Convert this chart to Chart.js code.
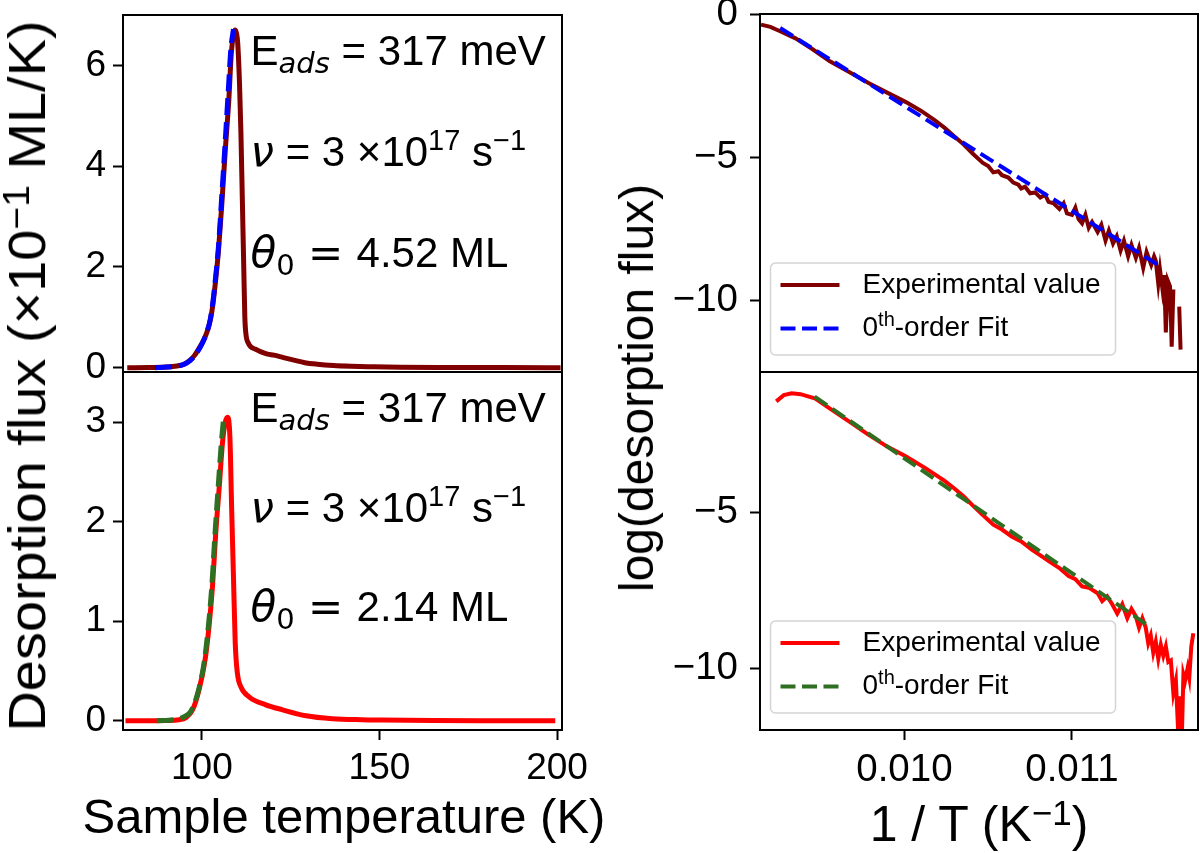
<!DOCTYPE html>
<html lang="en">
<head>
<meta charset="UTF-8">
<title>Desorption flux fits</title>
<script src="https://cdn.jsdelivr.net/npm/chart.js"></script>
<style>
  body { margin: 0; background: #fff; }
  #fig { position: relative; width: 1200px; height: 853px; font-family: "Liberation Sans", Arial, sans-serif; color: #000; }
  .panel { position: absolute; }
  .lbl { position: absolute; white-space: nowrap; line-height: 1; transform: translate(-50%, -50%); }
  sup { font-size: 0.7em; line-height: 0; vertical-align: 0.45em; }
</style>
</head>
<body>
<div id="fig">
  <div class="panel" style="left:0;top:0;width:600px;height:380px"><canvas id="tl"></canvas></div>
  <div class="panel" style="left:0;top:360px;width:600px;height:493px"><canvas id="bl"></canvas></div>
  <div class="panel" style="left:600px;top:0;width:600px;height:380px"><canvas id="tr"></canvas></div>
  <div class="panel" style="left:600px;top:360px;width:600px;height:493px"><canvas id="br"></canvas></div>

  <div class="lbl" style="left:27px;top:376px;font-size:52px;transform:translate(-50%,-50%) rotate(-90deg) scaleX(1.075)">Desorption flux (×10<sup>−1</sup> ML/K)</div>
  <div class="lbl" style="left:637px;top:388px;font-size:48px;transform:translate(-50%,-50%) rotate(-90deg)">log(desorption flux)</div>
  <div class="lbl" style="left:344px;top:816px;font-size:49px">Sample temperature (K)</div>
  <div class="lbl" style="left:979px;top:824px;font-size:50px">1 / T (K<sup>−1</sup>)</div>
</div>

<script>
// ---- data ----
// top-left: TPD trace, 4.52 ML
const tlTemp = [79, 85, 90, 93, 95, 96.7, 98, 99.5, 100.5, 101.5, 102.4, 103.1, 103.8, 104.7, 105.7, 106.6, 107.6, 108.3, 109.0, 109.4,
                109.8, 110.1, 110.6, 111.0, 111.4, 111.8, 112.1, 112.5, 113.0, 113.7, 115, 116.5, 118.5, 120.3, 123, 125.9, 129, 132.5, 137, 142,
                148, 156, 170, 185, 201];
const tlFlux = [0, 0.005, 0.015, 0.035, 0.07, 0.15, 0.25, 0.42, 0.55, 0.72, 0.95, 1.25, 1.68, 2.34, 3.33, 4.32, 5.32, 6.25, 6.64, 6.70,
                6.62, 6.44, 5.65, 4.66, 3.33, 2.0, 1.01, 0.62, 0.5, 0.42, 0.37, 0.32, 0.27, 0.25, 0.2, 0.15, 0.1, 0.07, 0.045, 0.03,
                0.02, 0.01, 0.005, 0.002, 0];
const tlFitTemp = [86.8, 90, 93, 95, 96.7, 98, 99.5, 100.5, 101.5, 102.4, 103.1, 103.8, 104.7, 105.6, 106.5, 107.4, 108.2, 108.9];
const tlFitFlux = [0, 0.012, 0.032, 0.068, 0.14, 0.24, 0.4, 0.54, 0.72, 0.97, 1.3, 1.75, 2.42, 3.4, 4.4, 5.45, 6.35, 6.72];

// bottom-left: TPD trace, 2.14 ML
const blTemp = [78.5, 85, 89.8, 93.6, 95.5, 97.4, 99.2, 100.9, 102.0, 103.0, 103.9, 104.9, 105.8, 106.6, 107.2, 107.9, 108.4, 108.9, 109.4, 110.0,
                111.0, 113.3, 118.0, 122.7, 129.3, 136.8, 145, 150.9, 165, 180, 199.5];
const blFlux = [0, 0, 0.003, 0.01, 0.03, 0.11, 0.31, 0.61, 0.94, 1.35, 1.88, 2.35, 2.79, 3.0, 3.05, 2.85, 2.12, 1.45, 0.78, 0.48,
                0.34, 0.24, 0.16, 0.11, 0.05, 0.02, 0.01, 0.007, 0.003, 0.001, 0];
const blFitTemp = [87.3, 92, 95, 97, 99, 100.7, 101.8, 102.8, 103.7, 104.6, 105.5, 106.2];
const blFitFlux = [0, 0.01, 0.04, 0.1, 0.3, 0.6, 0.94, 1.35, 1.88, 2.35, 2.8, 3.07];

// top-right: Arrhenius plot, 4.52 ML
const trInvT = [0.009144, 0.009200, 0.009258, 0.009350, 0.009450, 0.009555, 0.009670, 0.009783, 0.009900, 0.010012,
                0.010100, 0.010180, 0.010240, 0.010300, 0.010354, 0.010410, 0.010468, 0.010500, 0.010530, 0.010560,
                0.010582, 0.010620, 0.010650, 0.010680, 0.010697, 0.010720, 0.010750, 0.010780, 0.010811, 0.010840,
                0.010860, 0.010890, 0.010925, 0.010950, 0.010970, 0.011000, 0.011020, 0.011039, 0.011060, 0.011080,
                0.011100, 0.011120, 0.011153, 0.011175, 0.011200, 0.011220, 0.011245, 0.011267, 0.011290, 0.011310,
                0.011335, 0.011355, 0.011381, 0.011400, 0.011425, 0.011445, 0.011473, 0.011490, 0.011500, 0.011515,
                0.011525, 0.011540, 0.011550, 0.011560, 0.011572, 0.011585, 0.011595, 0.011605, 0.011620, 0.011640, 0.011648];
const trLog = [-0.37, -0.45, -0.60, -0.85, -1.22, -1.65, -2.02, -2.40, -2.75, -3.08,
               -3.38, -3.70, -3.97, -4.28, -4.55, -4.88, -5.19, -5.30, -5.52, -5.48,
               -5.62, -5.70, -5.88, -5.95, -6.08, -6.02, -6.25, -6.22, -6.40, -6.30,
               -6.55, -6.60, -6.80, -6.60, -6.95, -7.00, -6.75, -7.15, -7.30, -7.00,
               -7.45, -7.25, -7.60, -7.35, -7.90, -7.55, -8.00, -7.75, -8.25, -7.90,
               -8.45, -8.05, -8.50, -8.15, -8.85, -8.30, -8.75, -8.45, -8.60, -9.40,
               -8.90, -9.60, -9.10, -11.10, -9.30, -9.50, -11.60, -9.60, null, -10.20, -11.70];
const trFitInvT = [0.009258, 0.011515];
const trFitLog = [-0.49, -8.75];

// bottom-right: Arrhenius plot, 2.14 ML
const brInvT = [0.009235, 0.009280, 0.009327, 0.009380, 0.009464, 0.009560, 0.009669, 0.009780, 0.009897, 0.010010,
                0.010125, 0.010240, 0.010300, 0.010354, 0.010410, 0.010468, 0.010530, 0.010580, 0.010640, 0.010697,
                0.010760, 0.010820, 0.010870, 0.010925, 0.010980, 0.011020, 0.011060, 0.011100, 0.011153, 0.011180,
                0.011210, 0.011240, 0.011270, 0.011300, 0.011330, 0.011355, 0.011381, 0.011400, 0.011420, 0.011440,
                0.011455, 0.011470, 0.011485, 0.011500, 0.011515, 0.011530, 0.011545, 0.011560, 0.011575, 0.011590,
                0.011605, 0.011620, 0.011635, 0.011645, 0.011655, 0.011665, 0.011675, 0.011690, 0.011700, 0.011712, 0.011724];
const brLog = [-1.45, -1.25, -1.19, -1.22, -1.35, -1.70, -2.09, -2.50, -2.90, -3.22,
               -3.59, -4.00, -4.25, -4.50, -4.80, -5.09, -5.40, -5.55, -5.78, -5.94,
               -6.20, -6.42, -6.60, -6.79, -7.05, -7.15, -7.38, -7.42, -7.60, -7.85,
               -7.70, -7.95, -8.25, -7.95, -8.40, -8.10, -8.34, -8.70, -8.40, -8.70,
               -9.20, -8.95, -9.50, -9.15, -9.70, -9.25, -9.60, -9.30, -9.80, -9.75,
               -10.80, -10.40, -12.20, -10.90, -12.30, -10.20, -10.40, -10.00, -10.30, -9.30, -8.88];
const brFitInvT = [0.009464, 0.011440];
const brFitLog = [-1.30, -8.58];

// ticks
const tempTicks = [100, 150, 200];
const invTTicks = [0.010, 0.011];
const tlTicks = [0, 2, 4, 6];
const blTicks = [0, 1, 2, 3];
const trTicks = [0, -5, -10];
const brTicks = [-5, -10];

// ---- helpers ----
const SANS = '"Liberation Sans", Arial, sans-serif';
const MATH = '"DejaVu Sans", sans-serif';
Chart.defaults.font.family = SANS;
Chart.defaults.color = '#000';

function pts(xs, ys) { return xs.map((x, i) => ({ x: x, y: ys[i] })); }
function minusLabel(v) { return v < 0 ? '\u2212' + Math.abs(v) : String(v); }

function xAxis(min, max, ticks, show, fmt, size) {
  return {
    type: 'linear', min: min, max: max, display: show,
    afterBuildTicks: s => { s.ticks = ticks.map(v => ({ value: v })); },
    afterFit: s => {
      s.height = show ? 123 : 0;
      s.paddingLeft = 0; s.paddingRight = 0;
    },
    grid: { drawOnChartArea: false, tickLength: 10, tickWidth: 2, tickColor: '#000' },
    border: { display: false },
    ticks: { color: '#000', font: { size: size }, padding: 7, maxRotation: 0, autoSkip: false, callback: fmt }
  };
}

function yAxis(min, max, ticks, width, pad, size) {
  return {
    type: 'linear', min: min, max: max,
    afterBuildTicks: s => { s.ticks = ticks.map(v => ({ value: v })); },
    afterFit: s => {
      s.width = width;
      s.paddingTop = 0; s.paddingBottom = 0;
    },
    grid: { drawOnChartArea: false, tickLength: 10, tickWidth: 2, tickColor: '#000' },
    border: { display: false },
    ticks: { color: '#000', font: { size: size }, padding: pad, autoSkip: false, callback: v => minusLabel(v) }
  };
}

function options(pad, x, y) {
  return {
    responsive: true, maintainAspectRatio: false, animation: false,
    layout: { padding: pad },
    plugins: { legend: { display: false }, tooltip: { enabled: false } },
    elements: { point: { radius: 0 } },
    scales: { x: x, y: y }
  };
}

// spines on all four sides, like the original axes frame
const frame = {
  id: 'frame',
  afterDatasetsDraw(chart) {
    const { ctx, chartArea: a } = chart;
    ctx.save();
    ctx.strokeStyle = '#000';
    ctx.lineWidth = 2;
    ctx.strokeRect(a.left, a.top, a.right - a.left, a.bottom - a.top);
    ctx.restore();
  }
};

function drawSegs(ctx, x, y, segs) {
  segs.forEach(s => {
    ctx.font = s.f;
    ctx.fillText(s.t, x, y + (s.dy || 0));
    x += ctx.measureText(s.t).width;
  });
}

// parameter annotations, placed in data coordinates
function annotate(items) {
  return {
    id: 'annotate',
    afterDatasetsDraw(chart) {
      const ctx = chart.ctx;
      ctx.save();
      ctx.fillStyle = '#000';
      ctx.textAlign = 'left';
      ctx.textBaseline = 'alphabetic';
      items.forEach(it => {
        drawSegs(ctx, chart.scales.x.getPixelForValue(it.x), chart.scales.y.getPixelForValue(it.y), it.segs);
      });
      ctx.restore();
    }
  };
}

function paramLines(yVals, theta) {
  const big = '42px ' + SANS, small = '29px ' + SANS;
  return [
    { x: 113.7, y: yVals[0], segs: [
      { t: 'E', f: big }, { t: 'ads', f: 'italic 29px ' + MATH, dy: 8 }, { t: ' = 317 meV', f: big }] },
    { x: 113.7, y: yVals[1], segs: [
      { t: 'ν', f: 'italic 42px ' + MATH }, { t: ' = 3 ×10', f: big }, { t: '17', f: small, dy: -16 },
      { t: ' s', f: big }, { t: '−1', f: small, dy: -16 }] },
    { x: 113.7, y: yVals[2], segs: [
      { t: 'θ', f: 'italic 42px ' + MATH }, { t: '0', f: '29px ' + MATH, dy: 8 }, { t: ' = ', f: '42px ' + MATH },
      { t: theta + ' ML', f: big }] }
  ];
}

// legend box in the lower-left corner of the plot
function boxLegend() {
  return {
    id: 'boxLegend',
    afterDraw(chart) {
      const { ctx, chartArea: a } = chart;
      const bx = a.left + 10.5, by = a.bottom - 109, bw = 345, bh = 92;
      ctx.save();
      ctx.beginPath();
      ctx.roundRect(bx, by, bw, bh, 5);
      ctx.fillStyle = 'rgba(255,255,255,0.8)';
      ctx.fill();
      ctx.strokeStyle = '#d4d4d4';
      ctx.lineWidth = 1.5;
      ctx.stroke();
      // experimental first, fit second
      const order = [1, 0];
      order.forEach((di, i) => {
        const ds = chart.data.datasets[di];
        const y = by + 22 + i * 43.5;
        ctx.strokeStyle = ds.borderColor;
        ctx.lineWidth = 4;
        ctx.setLineDash(ds.borderDash || []);
        ctx.beginPath();
        ctx.moveTo(bx + 10, y);
        ctx.lineTo(bx + 69, y);
        ctx.stroke();
        ctx.setLineDash([]);
        ctx.fillStyle = '#000';
        ctx.textBaseline = 'middle';
        const m = ds.label.match(/^(\d)(th)(.*)$/);
        const segs = m
          ? [{ t: m[1], f: '28px ' + SANS }, { t: m[2], f: '20px ' + SANS, dy: -8 }, { t: m[3], f: '28px ' + SANS }]
          : [{ t: ds.label, f: '28px ' + SANS }];
        drawSegs(ctx, bx + 92, y, segs);
      });
      ctx.restore();
    }
  };
}

function lineSet(label, data, color, width, dash, order, smooth) {
  return {
    label: label, data: data, borderColor: color, borderWidth: width, borderDash: dash || [],
    pointRadius: 0, fill: false, order: order, spanGaps: false,
    cubicInterpolationMode: smooth ? 'monotone' : 'default', tension: 0
  };
}

const MAROON = '#800000', BLUE = '#0000ff', RED = '#ff0000', GREEN = '#2f6f22';

// ---- charts ----
new Chart(document.getElementById('tl'), {
  type: 'line',
  data: { datasets: [
    lineSet('0th-order Fit', pts(tlFitTemp, tlFitFlux), BLUE, 5, [17, 7], 0, true),
    lineSet('Experimental value', pts(tlTemp, tlFlux), MAROON, 5, null, 1, true)
  ] },
  options: options({ top: 15, right: 38, bottom: 8, left: 0 },
    xAxis(77.8, 201.4, tempTicks, false, v => String(v), 37),
    yAxis(-0.085, 7.0, tlTicks, 123, 7, 37)),
  plugins: [frame, annotate(paramLines([6, 4, 2], '4.52'))]
});

new Chart(document.getElementById('bl'), {
  type: 'line',
  data: { datasets: [
    lineSet('0th-order Fit', pts(blFitTemp, blFitFlux), GREEN, 5, [17, 7], 0, true),
    lineSet('Experimental value', pts(blTemp, blFlux), RED, 5, null, 1, true)
  ] },
  options: options({ top: 12, right: 38, bottom: 0, left: 0 },
    xAxis(77.8, 201.4, tempTicks, true, v => String(v), 37),
    yAxis(-0.093, 3.505, blTicks, 123, 7, 37)),
  plugins: [frame, annotate(paramLines([3, 2, 1], '2.14'))]
});

new Chart(document.getElementById('tr'), {
  type: 'line',
  data: { datasets: [
    lineSet('0th-order Fit', pts(trFitInvT, trFitLog), BLUE, 4, [15, 6.5], 0, false),
    lineSet('Experimental value', pts(trInvT, trLog), MAROON, 4, null, 1, false)
  ] },
  options: options({ top: 14, right: 2, bottom: 8, left: 0 },
    xAxis(0.009138, 0.011752, invTTicks, false, v => v.toFixed(3), 38.5),
    yAxis(-12.48, 0, trTicks, 160, 12, 38.5)),
  plugins: [frame, boxLegend()]
});

new Chart(document.getElementById('br'), {
  type: 'line',
  data: { datasets: [
    lineSet('0th-order Fit', pts(brFitInvT, brFitLog), GREEN, 4, [15, 6.5], 0, false),
    lineSet('Experimental value', pts(brInvT, brLog), RED, 4, null, 1, false)
  ] },
  options: options({ top: 12, right: 2, bottom: 0, left: 0 },
    xAxis(0.009138, 0.011752, invTTicks, true, v => v.toFixed(3), 38.5),
    yAxis(-11.98, -0.51, brTicks, 160, 12, 38.5)),
  plugins: [frame, boxLegend()]
});
</script>
</body>
</html>
